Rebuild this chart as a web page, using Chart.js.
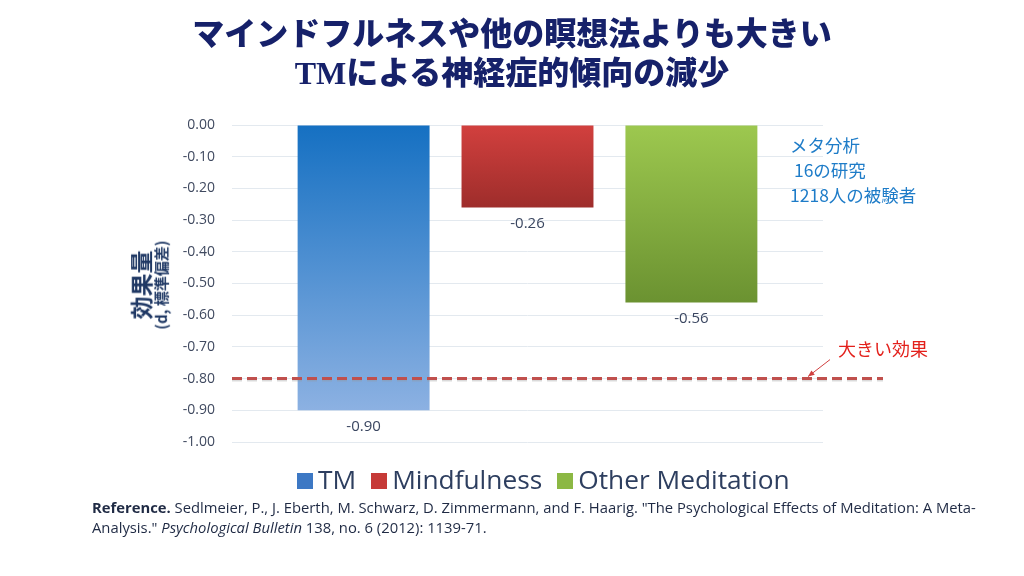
<!DOCTYPE html>
<html><head><meta charset="utf-8">
<script src="https://cdn.jsdelivr.net/npm/chart.js@4"></script>
<style>
html,body{margin:0;padding:0;background:#fff;}
#wrap{position:relative;width:1024px;height:576px;overflow:hidden;font-family:"Noto Sans CJK JP","Open Sans",sans-serif;}
#c{position:absolute;left:0;top:0;}
.abs{position:absolute;white-space:nowrap;}
#title{left:0;width:1024px;top:12px;text-align:center;color:#16216a;font-weight:900;font-size:32px;line-height:39px;font-family:"Noto Sans CJK JP",sans-serif;}
#title .tm{font-family:"Liberation Serif",serif;font-weight:bold;}
#ytitle{left:149px;top:285px;transform:translate(-50%,-50%) rotate(-90deg);text-align:center;color:#1f3864;font-weight:bold;line-height:1.1;}
#ytitle .a{font-size:23px;display:block;}
#ytitle .b{font-size:15px;display:block;}
#note{left:790px;top:132px;color:#1e7cc8;font-size:17.5px;line-height:25px;}
#big{left:838px;top:335px;color:#e3201b;font-size:18px;}
#legend{left:297px;top:461px;color:#2d3e5f;font-size:26.3px;font-family:"Open Sans",sans-serif;}
#legend span.sq{display:inline-block;width:16px;height:16px;margin-right:5px;vertical-align:0px;}
#legend span.it{margin-right:15px;}
#ref{left:92px;top:497px;color:#1f2a44;font-size:14.8px;line-height:20px;font-family:"Open Sans",sans-serif;}
</style></head>
<body><div id="wrap">
<canvas id="c" width="1024" height="576"></canvas>
<div id="title" class="abs">マインドフルネスや他の瞑想法よりも大きい<br><span class="tm">TM</span>による神経症的傾向の減少</div>
<div id="ytitle" class="abs"><span class="a">効果量</span><span class="b">(d, 標準偏差)</span></div>
<div id="note" class="abs">メタ分析<br>&nbsp;16の研究<br>1218人の被験者</div>
<div id="big" class="abs">大きい効果</div>
<div id="legend" class="abs"></div>
<div id="ref" class="abs"><b>Reference.</b> Sedlmeier, P., J. Eberth, M. Schwarz, D. Zimmermann, and F. Haarig. "The Psychological Effects of Meditation: A Meta-<br>Analysis." <i>Psychological Bulletin</i> 138, no. 6 (2012): 1139-71.</div>
</div>
<script>
const categories = [""];
const seriesNames = ["TM", "Mindfulness", "Other Meditation"];
const seriesValues = [[-0.90], [-0.26], [-0.56]];
const largeEffect = -0.80;
const tickMin = -1.0, tickMax = 0.0, tickStep = 0.1;

const gradTop = ["#1570c2", "#d2403e", "#9dc84f"];
const gradBottom = ["#8cb1e2", "#9e2d2b", "#6b9231"];
const swatch = ["#3d78c4", "#c63a37", "#8cb844"];

const leg = document.getElementById('legend');
seriesNames.forEach((n,i)=>{
  const s=document.createElement('span');s.className='it';
  s.innerHTML='<span class="sq" style="background:'+swatch[i]+'"></span>'+n;
  leg.appendChild(s);
});

function grad(i){
  return (ctx)=>{
    const ch=ctx.chart; const ys=ch.scales.y;
    if(!ys||!ch.chartArea) return gradTop[i];
    const v=seriesValues[i][0];
    const g=ch.ctx.createLinearGradient(0,ys.getPixelForValue(0),0,ys.getPixelForValue(v));
    g.addColorStop(0,gradTop[i]);g.addColorStop(1,gradBottom[i]);
    return g;
  };
}

const extras = {
  id:'extras',
  afterDatasetsDraw(chart){
    const c=chart.ctx, ys=chart.scales.y, ca=chart.chartArea;
    c.save();
    c.font='15px "Open Sans", sans-serif';c.fillStyle='#3a4660';c.textAlign='center';c.textBaseline='middle';
    chart.data.datasets.forEach((d,i)=>{
      chart.getDatasetMeta(i).data.forEach((el,j)=>{
        c.fillText(d.data[j].toFixed(2), el.x, el.y+16);
      });
    });
    const y=ys.getPixelForValue(largeEffect);
    c.strokeStyle='rgba(150,150,150,0.35)';c.lineWidth=3;c.setLineDash([10,5]);
    c.beginPath();c.moveTo(ca.left,y+1.5);c.lineTo(ca.right+60,y+1.5);c.stroke();
    c.strokeStyle='#c0504d';
    c.beginPath();c.moveTo(ca.left,y);c.lineTo(ca.right+60,y);c.stroke();
    c.setLineDash([]);
    const ax=ca.right+7, ay=y-19, bx=ca.right-15, by=y-2;
    c.strokeStyle='#d04040';c.fillStyle='#d04040';c.lineWidth=1;
    c.beginPath();c.moveTo(ax,ay);c.lineTo(bx,by);c.stroke();
    const ang=Math.atan2(by-ay,bx-ax);
    c.beginPath();c.moveTo(bx,by);
    c.lineTo(bx-7*Math.cos(ang-0.4),by-7*Math.sin(ang-0.4));
    c.lineTo(bx-7*Math.cos(ang+0.4),by-7*Math.sin(ang+0.4));
    c.closePath();c.fill();
    c.restore();
  }
};

new Chart(document.getElementById('c'),{
  type:'bar',
  data:{labels:categories,datasets:seriesNames.map((n,i)=>({label:n,data:seriesValues[i],backgroundColor:grad(i),borderWidth:0}))},
  options:{
    responsive:false,animation:false,
    layout:{padding:{left:152,right:201,top:125,bottom:134}},
    datasets:{bar:{categoryPercentage:0.832,barPercentage:0.805}},
    plugins:{legend:{display:false},tooltip:{enabled:false},title:{display:false}},
    scales:{
      x:{display:false},
      y:{min:tickMin,max:tickMax,
        afterFit(s){s.width=80;},
        border:{display:false},
        grid:{color:'#e3e9ef',drawTicks:false,lineWidth:1},
        ticks:{stepSize:tickStep,padding:17,color:'#404a60',font:{family:'"Open Sans", sans-serif',size:14},
          callback:(v)=>Math.abs(v)<1e-9?'0.00':Number(v).toFixed(2)}
      }
    }
  },
  plugins:[extras]
});
</script>
</body></html>
